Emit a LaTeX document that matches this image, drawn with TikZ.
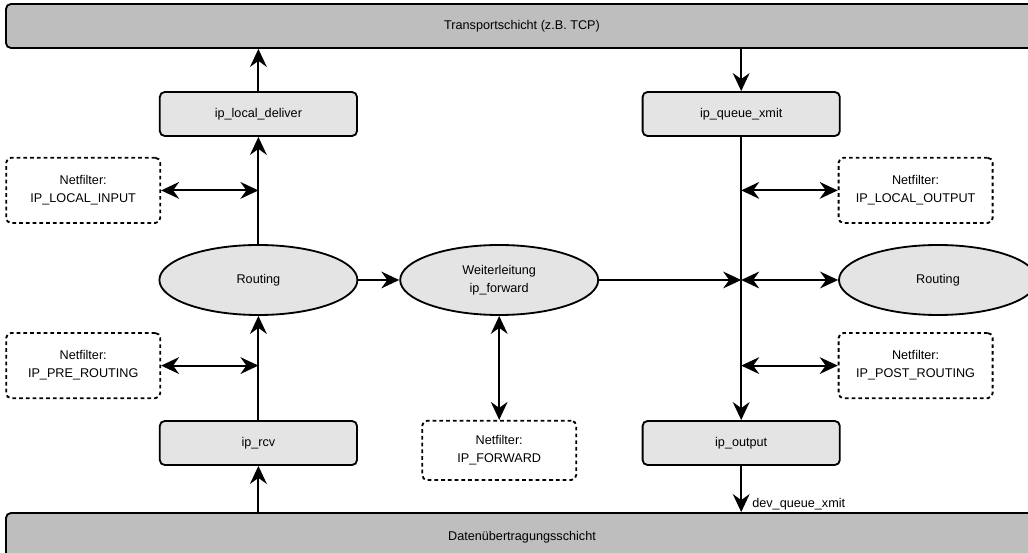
\documentclass[tikz,border=0pt]{standalone}
\usepackage{fontspec}
\setmainfont{Liberation Sans}
\usepackage{xcolor}
\usepackage{tikz}
\usetikzlibrary{shapes.geometric,arrows.meta}
\definecolor{NWLayer}{HTML}{BEBEBE}
\definecolor{NWBox}{HTML}{E4E4E4}

\begin{document}
\begin{tikzpicture}[x=1cm,y=1cm,
  font=\fontsize{9}{12.8}\selectfont,
  layer/.style={draw,line width=1.3pt,fill=NWLayer,rounded corners=3.5pt,minimum width=25.8cm,inner sep=0pt},
  func/.style={draw,line width=1.3pt,fill=NWBox,rounded corners=3.5pt,minimum width=4.93cm,minimum height=1.1cm,inner sep=0pt},
  hook/.style={draw,line width=1.3pt,dash pattern=on 2.6pt off 2.2pt,rounded corners=3.5pt,align=center,minimum width=3.85cm,minimum height=1.63cm,inner sep=0pt},
  decide/.style={draw,line width=1.3pt,fill=NWBox,ellipse,align=center,minimum width=4.95cm,minimum height=1.75cm,inner sep=0pt},
  flow/.style={line width=1.3pt,-{Stealth[length=4.5mm,width=4.2mm,inset=1.5mm]}},
  both/.style={line width=1.3pt,{Stealth[length=4.5mm,width=4.2mm,inset=1.5mm]}-{Stealth[length=4.5mm,width=4.2mm,inset=1.5mm]}}]
\path[use as bounding box] (0,0) rectangle (25.70,13.80);
\clip (0,0) rectangle (25.70,13.80);
\fill[white] (0,0) rectangle (25.70,13.80);
\node[layer,minimum height=1.1cm] (transport) at (13.05,13.15) {Transportschicht (z.B. TCP)};
\node[layer,minimum height=1.2cm] (link) at (13.05,0.375) {Datenübertragungsschicht};
\node[func] (deliver) at (6.46,10.95) {ip\_local\_deliver};
\node[func] (queuexmit) at (18.53,10.95) {ip\_queue\_xmit};
\node[hook] (nflocalin) at (2.08,9.04) {Netfilter:\\IP\_LOCAL\_INPUT};
\node[hook] (nflocalout) at (22.89,9.04) {Netfilter:\\IP\_LOCAL\_OUTPUT};
\node[decide] (routein) at (6.46,6.80) {Routing};
\node[decide] (fwd) at (12.48,6.80) {Weiterleitung\\ip\_forward};
\node[decide] (routeout) at (23.45,6.80) {Routing};
\node[hook] (nfpre) at (2.08,4.66) {Netfilter:\\IP\_PRE\_ROUTING};
\node[hook] (nfpost) at (22.89,4.66) {Netfilter:\\IP\_POST\_ROUTING};
\node[func] (rcv) at (6.46,2.725) {ip\_rcv};
\node[func] (output) at (18.53,2.725) {ip\_output};
\node[hook,minimum height=1.48cm] (nffwd) at (12.48,2.54) {Netfilter:\\IP\_FORWARD};
\draw[flow] (rcv |- link.north) -- (rcv.south);
\draw[flow] (rcv.north) -- (routein.south);
\draw[flow] (routein.north) -- (deliver.south);
\draw[flow] (deliver.north) -- (deliver |- transport.south);
\draw[both] (nflocalin.east) -- (nflocalin.east -| deliver);
\draw[both] (nfpre.east) -- (nfpre.east -| rcv);
\draw[flow] (routein.east) -- (fwd.west);
\draw[both] (fwd.south) -- (nffwd.north);
\draw[flow] (queuexmit |- transport.south) -- (queuexmit.north);
\draw[flow] (queuexmit.south) -- (output.north);
\draw[flow] (fwd.east) -- (fwd.east -| output);
\draw[both] (routeout.west -| output) -- (routeout.west);
\draw[both] (nflocalout.west -| output) -- (nflocalout.west);
\draw[both] (nfpost.west -| output) -- (nfpost.west);
\draw[flow] (output.south) -- (output |- link.north) node[anchor=south west,xshift=0.22cm,inner sep=1pt] {dev\_queue\_xmit};
\end{tikzpicture}
\end{document}
